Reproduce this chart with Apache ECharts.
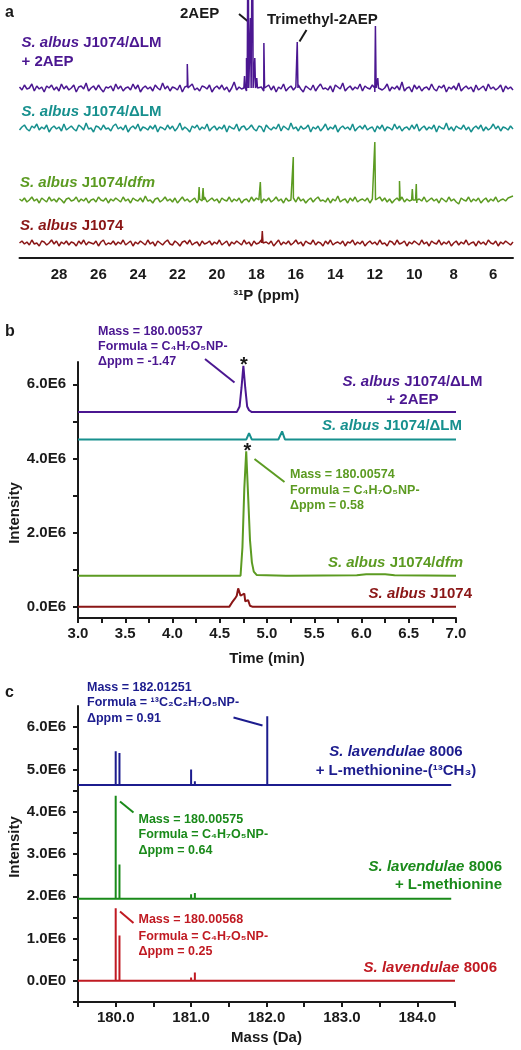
<!DOCTYPE html>
<html><head><meta charset="utf-8">
<script src="https://cdn.jsdelivr.net/npm/echarts@6/dist/echarts.min.js"></script>
<style>html,body{margin:0;padding:0;background:#fff}#c{width:521px;height:1050px}</style>
</head><body><div id="c"></div>
<script>
// ---------- Panel a: 31P NMR (a.u.), ppm axis 30 -> 5 ----------
const ppmTicks = [28, 26, 24, 22, 20, 18, 16, 14, 12, 10, 8, 6];
const ppmRange = [5, 30];
const nmrBase = { lm2aep: 170, lm: 130, dfm: 58, wt: 15 };
const noiseLM2AEP = [
  1,-2,3,-1,0,4,-3,2,-1,1,-4,2,0,3,-2,1,-3,4,-1,2,
 -2,0,3,-4,1,2,-1,5,-3,0,2,-2,3,-1,-4,1,0,2,-3,4,
 -1,2,-3,0,1,-2,4,-1,3,-4,0,2,-1,1,-3,3,0,-2,5,-1,
  2,-3,1,0,-2,3,-4,1,2,-1,4,-2,0,-3,2,1,-1,3,-4,0,
  2,-1,3,-2,1,-4,0,6,-2,1,-1,3,-3,0,2,-2,4,-1,1,-3,
  0,3,-2,2,-4,1,-1,4,-3,0,2,-2,1,3,-1,-4,2,0,-2,3,
 -3,1,4,-1,0,-2,2,-4,3,1,-1,5,-3,0,2,-2,1,-1,4,-3,
  2,0,-1,3,-4,1,2,-2,0,4,-3,1,-1,2,-2,6,-3,0,1,-4,
  3,-1,2,-3,0,1,-2,4,-1,-3,2,0,3,-4,1,-1,2,-2,5,-3,
  0,2,-1,1,-4,3,-2,0,2,-3,4,-1,1,-2,0,3,-4,2,-1,1,
 -2];
const noiseLM = [
 -2,1,3,-1,-3,2,0,4,-2,1,-1,3,-4,0,2,-1,1,-3,4,-2,
  0,2,-1,-3,3,1,-2,5,-1,0,-4,2,1,-2,3,-1,0,-3,2,4,
 -1,1,-2,3,-4,0,2,-1,4,-3,1,0,-2,2,-1,3,-4,1,0,-2,
  3,-1,2,-3,0,5,-2,1,-1,-4,2,0,3,-2,1,-1,4,-3,0,2,
 -2,1,-1,3,-4,2,0,-1,4,-3,1,2,-2,0,3,-1,-3,2,1,-4,
  3,0,-2,1,-1,4,-3,2,0,-2,5,-1,1,-3,2,-1,0,3,-4,1,
 -1,2,-3,0,4,-2,1,-1,3,-4,0,2,-1,1,-2,4,-3,0,2,-1,
  3,-2,0,1,-4,2,-1,3,-3,1,0,-2,4,-1,2,-3,0,1,-2,3,
 -1,4,-3,0,2,-2,1,-1,3,-4,2,0,-1,5,-2,1,-3,2,0,-1,
  3,-2,1,-4,0,2,-1,3,-3,1,-2,0,4,-1,2,-3,1,0,-2,2,
 -1];
const noiseDFM = [
  1,-1,2,-2,0,3,-1,1,-3,2,0,-2,3,-1,1,-2,2,0,-3,1,
  2,-1,0,3,-2,1,-1,2,-3,0,1,-2,3,0,-1,2,-3,1,-1,2,
  0,-2,3,-1,1,-3,2,0,-1,2,-2,4,-1,0,-3,1,2,-2,0,3,
 -1,1,-2,2,-3,0,3,-1,1,-2,0,2,-3,1,-1,3,-2,0,2,-1,
  1,-3,2,0,-1,3,-2,1,-1,2,-3,0,1,-2,3,-1,2,0,-3,1,
 -1,2,-2,0,3,-1,1,-3,2,-1,0,2,-2,3,-1,1,-3,0,2,-2,
  1,3,-1,0,-2,2,-3,1,-1,4,-2,0,1,-3,2,-1,3,-2,0,1,
 -1,2,-3,1,0,-2,3,-1,2,-2,1,-3,0,2,-1,3,-2,1,-1,0,
  2,-3,1,-1,3,-2,0,2,-1,1,-3,2,0,-2,3,-1,1,-2,-4,2,
  0,-1,3,-2,1,-1,2,-3,0,2,-2,1,-1,3,-2,0,1,-1,2,3,
  4];
const noiseWT = [
  0,2,-1,1,-2,3,-1,0,-3,2,1,-2,0,3,-1,2,-3,1,-1,2,
 -2,1,0,-3,2,-1,3,-2,1,0,-1,2,-3,1,3,-2,0,-1,2,-2,
  1,-1,3,-2,0,2,-3,1,-1,2,0,-2,3,-1,1,-3,2,0,-2,1,
  3,-1,-2,2,0,-3,1,2,-1,3,-2,0,1,-3,2,-1,0,2,-2,1,
 -1,3,-2,0,2,-3,1,-1,2,0,-2,3,-1,1,-3,2,-1,0,3,-2,
  1,-1,2,-3,0,3,-2,1,-1,2,-2,0,3,-1,1,-3,2,0,-1,3,
 -2,1,0,-3,2,-1,3,-2,0,1,-1,2,-3,1,0,3,-2,1,-1,2,
 -3,0,2,-1,1,-2,3,-1,0,-3,2,1,-2,3,-1,0,2,-3,1,-1,
  2,0,-2,3,-1,1,-3,2,0,-1,3,-2,1,-1,2,-3,0,2,-2,1,
 -1,3,-2,0,1,-3,2,-1,1,-2,3,0,-1,2,-3,1,-1,2,0,-2,
  1];
// peaks: [ppm, height above baseline]
const peaksLM2AEP = [[21.5, 24], [18.6, 12], [18.5, 30], [18.42, 200], [18.3, 70], [18.2, 200], [18.08, 30], [17.98, 10], [17.62, 45], [15.93, 46], [11.97, 62], [11.85, 10]];
const peaksLM = [];
const peaksDFM = [[20.9, 13], [20.7, 12], [17.8, 18], [16.13, 43], [12.0, 58], [10.75, 19], [10.1, 11], [9.9, 16]];
const peaksWT = [[17.7, 12]];

// ---------- Panel b: EIC (intensity in 1E6) ----------
const timeLabels = [3.0, 3.5, 4.0, 4.5, 5.0, 5.5, 6.0, 6.5, 7.0];
const intensityLabelsB = [0, 2, 4, 6];
const eicLM2AEP = [[3.0,5.25],[3.78,5.25],[3.8,5.28],[3.82,5.25],[4.68,5.25],[4.71,5.4],[4.73,5.9],[4.75,6.5],[4.77,5.9],[4.79,5.4],[4.81,5.3],[4.84,5.25],[5.83,5.25],[5.85,5.27],[5.87,5.25],[7.0,5.25]];
const eicLM = [[3.0,4.51],[4.78,4.51],[4.81,4.68],[4.84,4.51],[5.12,4.51],[5.16,4.73],[5.19,4.51],[7.0,4.51]];
const eicDFM = [[3.0,0.84],[4.72,0.84],[4.74,1.6],[4.76,3.2],[4.78,4.19],[4.8,3.0],[4.82,1.8],[4.84,1.2],[4.86,0.95],[4.89,0.86],[5.2,0.84],[5.22,0.88],[5.24,0.84],[5.95,0.85],[6.05,0.88],[6.25,0.88],[6.35,0.85],[7.0,0.84]];
const eicWT = [[3.0,0],[4.6,0],[4.63,0.12],[4.66,0.22],[4.68,0.3],[4.695,0.5],[4.72,0.3],[4.74,0.28],[4.76,0.36],[4.77,0.15],[4.79,0.12],[4.8,0.18],[4.82,0.03],[4.85,0],[5.28,0],[5.3,0.05],[5.32,0],[7.0,0]];

// ---------- Panel c: mass spectra (intensity in 1E6) ----------
const massLabels = [180, 181, 182, 183, 184];
const intensityLabelsC = [0, 1, 2, 3, 4, 5, 6];
const msBase = { c13: 4.63, met: 1.94, wt: 0 };
const msC13 = [[180.0,5.43],[180.05,5.39],[181.0,5.0],[181.05,4.72],[182.01,6.26],[183.02,4.67],[184.0,4.64]];
const msMet = [[179.55,1.98],[180.0,4.38],[180.05,2.75],[181.0,2.05],[181.05,2.08],[183.0,1.96]];
const msWT = [[180.0,1.72],[180.05,1.07],[180.55,0.04],[181.0,0.08],[181.05,0.2],[182.05,0.02]];

// ---------- styling ----------
const F = "'Liberation Sans', Arial, Helvetica, sans-serif";
const INK = '#1a1a1a';
const C = { purple:'#4b1791', teal:'#17908e', green:'#5c9b22', dred:'#8a1616', navy:'#1c1c8e', cgreen:'#1a8a1a', cred:'#c01a22' };

function nmrData(noise, base, peaks) {
  const n = noise.length, step = (ppmRange[1] - ppmRange[0]) / (n - 1);
  const pts = noise.map((v, i) => [ppmRange[1] - i * step, base + v]);
  peaks.forEach(([p, h]) => { pts.push([p + 0.035, base], [p, base + h], [p - 0.035, base]); });
  pts.sort((a, b) => b[0] - a[0]);
  return pts;
}
function stickData(sticks, base, x0, x1) {
  const pts = [[x0, base]];
  sticks.forEach(([m, v]) => { pts.push([m, base], [m, v], [m, base]); });
  pts.push([x1, base]);
  return pts;
}
function line(xi, data, color, w) {
  return { type:'line', xAxisIndex:xi, yAxisIndex:xi, data, showSymbol:false, symbol:'none', smooth:false, silent:true, animation:false, clip:true, lineStyle:{ color, width:w } };
}
function txt(x, y, text, color, size, align, extra) {
  return Object.assign({ type:'text', x, y, silent:true, style:{
    text, fill:color, fontFamily:F, fontWeight:'bold', fontSize:size, align:align || 'left', verticalAlign:'middle',
    rich:{ i:{ fontStyle:'italic', fontWeight:'bold', fontSize:size, fontFamily:F, fill:color } } } }, extra || {});
}
function seg(x1, y1, x2, y2, color) {
  return { type:'line', silent:true, shape:{ x1, y1, x2, y2 }, style:{ stroke:color, lineWidth:2 } };
}
const axisTxt = { color:INK, fontFamily:F, fontWeight:'bold', fontSize:15 };
const axisLn = { show:true, onZero:false, lineStyle:{ color:INK, width:2 } };

const chart = echarts.init(document.getElementById('c'), null, { renderer:'canvas' });
chart.setOption({
  animation:false,
  backgroundColor:'#fff',
  grid:[
    { left:19.5, right:8, top:0, height:258 },
    { left:78, right:65, top:362, height:256 },
    { left:78, right:66, top:706, height:296 }
  ],
  xAxis:[
    { gridIndex:0, type:'value', min:ppmRange[0], max:ppmRange[1], inverse:true, splitLine:{show:false},
      axisLine:axisLn, axisTick:{show:false},
      axisLabel:Object.assign({ customValues:ppmTicks, margin:9 }, axisTxt),
      name:'³¹P (ppm)', nameLocation:'middle', nameGap:30, nameTextStyle:axisTxt },
    { gridIndex:1, type:'value', min:3, max:7, interval:0.25, splitLine:{show:false},
      axisLine:axisLn, axisTick:{ show:true, length:5, lineStyle:{ color:INK, width:2 } },
      axisLabel:Object.assign({ customValues:timeLabels, margin:8, formatter:v => v.toFixed(1) }, axisTxt),
      name:'Time (min)', nameLocation:'middle', nameGap:33, nameTextStyle:axisTxt },
    { gridIndex:2, type:'value', min:179.5, max:184.5, interval:0.5, splitLine:{show:false},
      axisLine:axisLn, axisTick:{ show:true, length:5, lineStyle:{ color:INK, width:2 } },
      axisLabel:Object.assign({ customValues:massLabels, margin:8, formatter:v => v.toFixed(1) }, axisTxt),
      name:'Mass (Da)', nameLocation:'middle', nameGap:28, nameTextStyle:axisTxt }
  ],
  yAxis:[
    { gridIndex:0, type:'value', min:0, max:258, show:false },
    { gridIndex:1, type:'value', min:-0.3, max:6.6, splitLine:{show:false},
      axisLine:axisLn,
      axisTick:{ show:true, length:5, customValues:[0,1,2,3,4,5,6], lineStyle:{ color:INK, width:2 } },
      axisLabel:Object.assign({ customValues:intensityLabelsB, margin:12, formatter:v => v.toFixed(1) + 'E6' }, axisTxt) },
    { gridIndex:2, type:'value', min:-0.5, max:6.5, splitLine:{show:false},
      axisLine:axisLn,
      axisTick:{ show:true, length:5, customValues:[-0.5,0,0.5,1,1.5,2,2.5,3,3.5,4,4.5,5,5.5,6], lineStyle:{ color:INK, width:2 } },
      axisLabel:Object.assign({ customValues:intensityLabelsC, margin:12, formatter:v => v === 0 ? '0.0E0' : v.toFixed(1) + 'E6' }, axisTxt) }
  ],
  series:[
    line(0, nmrData(noiseLM2AEP, nmrBase.lm2aep, peaksLM2AEP), C.purple, 1.5),
    line(0, nmrData(noiseLM, nmrBase.lm, peaksLM), C.teal, 1.5),
    line(0, nmrData(noiseDFM, nmrBase.dfm, peaksDFM), C.green, 1.5),
    line(0, nmrData(noiseWT, nmrBase.wt, peaksWT), C.dred, 1.5),
    line(1, eicLM2AEP, C.purple, 2),
    line(1, eicLM, C.teal, 2),
    line(1, eicDFM, C.green, 2),
    line(1, eicWT, C.dred, 2),
    line(2, stickData(msC13, msBase.c13, 179.5, 184.45), C.navy, 2),
    line(2, stickData(msMet, msBase.met, 179.5, 184.45), C.cgreen, 2),
    line(2, stickData(msWT, msBase.wt, 179.5, 184.5), C.cred, 2)
  ],
  graphic:{ elements:[
    // panel a
    txt(5, 13, 'a', INK, 16),
    txt(180, 14, '2AEP', INK, 15),
    seg(239, 14, 247.5, 21, INK),
    txt(267, 20, 'Trimethyl-2AEP', INK, 15),
    seg(306.5, 30, 299.5, 41.5, INK),
    txt(21.5, 43, '{i|S. albus} J1074/ΔLM', C.purple, 15),
    txt(21.5, 61.5, '+ 2AEP', C.purple, 15),
    txt(21.5, 112, '{i|S. albus} J1074/ΔLM', C.teal, 15),
    txt(20, 182.5, '{i|S. albus} J1074/{i|dfm}', C.green, 15),
    txt(20, 226, '{i|S. albus} J1074', C.dred, 15),
    // panel b
    txt(5, 332, 'b', INK, 16),
    txt(98, 332, 'Mass = 180.00537', C.purple, 12.5),
    txt(98, 347, 'Formula = C₄H₇O₅NP-', C.purple, 12.5),
    txt(98, 362, 'Δppm = -1.47', C.purple, 12.5),
    seg(205, 359, 234.5, 382.5, C.purple),
    txt(244, 365, '*', INK, 20, 'center'),
    txt(247.5, 451, '*', INK, 20, 'center'),
    txt(412.5, 382, '{i|S. albus} J1074/ΔLM', C.purple, 15, 'center'),
    txt(412.5, 399.5, '+ 2AEP', C.purple, 15, 'center'),
    txt(462, 426, '{i|S. albus} J1074/ΔLM', C.teal, 15, 'right'),
    seg(254.5, 459, 284.5, 482, C.green),
    txt(290, 475, 'Mass = 180.00574', C.green, 12.5),
    txt(290, 490.5, 'Formula = C₄H₇O₅NP-', C.green, 12.5),
    txt(290, 506, 'Δppm = 0.58', C.green, 12.5),
    txt(463, 563, '{i|S. albus} J1074/{i|dfm}', C.green, 15, 'right'),
    txt(472, 594, '{i|S. albus} J1074', C.dred, 15, 'right'),
    txt(15, 513, 'Intensity', INK, 15, 'center', { rotation:Math.PI / 2 }),
    // panel c
    txt(5, 693, 'c', INK, 16),
    txt(87, 687.5, 'Mass = 182.01251', C.navy, 12.5),
    txt(87, 703, 'Formula = ¹³C₂C₂H₇O₅NP-', C.navy, 12.5),
    txt(87, 718.5, 'Δppm = 0.91', C.navy, 12.5),
    seg(233.5, 717.5, 262.5, 725.5, C.navy),
    txt(396, 752, '{i|S. lavendulae} 8006', C.navy, 15, 'center'),
    txt(396, 771, '+ L-methionine-(¹³CH₃)', C.navy, 15, 'center'),
    seg(120, 801.5, 133.5, 812.5, C.cgreen),
    txt(138.5, 819.5, 'Mass = 180.00575', C.cgreen, 12.5),
    txt(138.5, 835, 'Formula = C₄H₇O₅NP-', C.cgreen, 12.5),
    txt(138.5, 851, 'Δppm = 0.64', C.cgreen, 12.5),
    txt(502, 867, '{i|S. lavendulae} 8006', C.cgreen, 15, 'right'),
    txt(502, 885, '+ L-methionine', C.cgreen, 15, 'right'),
    seg(120, 911.5, 133.5, 923, C.cred),
    txt(138.5, 920, 'Mass = 180.00568', C.cred, 12.5),
    txt(138.5, 936.5, 'Formula = C₄H₇O₅NP-', C.cred, 12.5),
    txt(138.5, 952, 'Δppm = 0.25', C.cred, 12.5),
    txt(497, 968, '{i|S. lavendulae} 8006', C.cred, 15, 'right'),
    txt(15, 847, 'Intensity', INK, 15, 'center', { rotation:Math.PI / 2 })
  ]}
});
</script></body></html>
